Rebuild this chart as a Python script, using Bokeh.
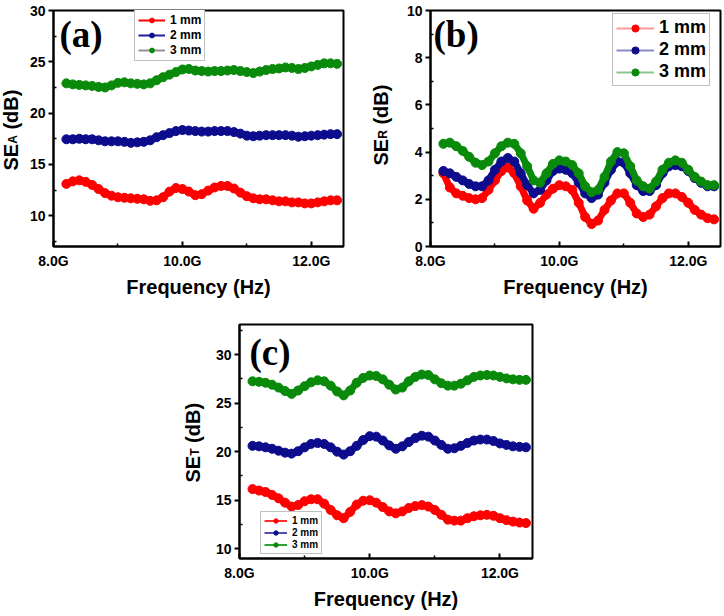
from math import pi
from bokeh.plotting import figure
from bokeh.models import Label, Legend, LegendItem, FixedTicker, Range1d, Spacer
from bokeh.layouts import row, column
from bokeh.embed import file_html
from bokeh.resources import INLINE

# ---------------- data (frequency in GHz, shielding in dB) ----------------
freq_ghz = [8.2, 8.3, 8.4, 8.5, 8.6, 8.7, 8.8, 8.9,
            9.0, 9.1, 9.2, 9.3, 9.4, 9.5, 9.6, 9.7, 9.8, 9.9,
            10.0, 10.1, 10.2, 10.3, 10.4, 10.5, 10.6, 10.7, 10.8, 10.9,
            11.0, 11.1, 11.2, 11.3, 11.4, 11.5, 11.6, 11.7, 11.8, 11.9,
            12.0, 12.1, 12.2, 12.3, 12.4]

series_labels = ["1 mm", "2 mm", "3 mm"]

# (a) SE_A
se_a_1mm = [13.1, 13.35, 13.45, 13.3, 13.0, 12.6, 12.2, 11.95,
            11.8, 11.75, 11.7, 11.65, 11.6, 11.45, 11.5, 11.8, 12.35, 12.7,
            12.6, 12.35, 12.0, 12.1, 12.45, 12.75, 12.9, 12.9, 12.65, 12.25,
            11.9, 11.7, 11.6, 11.6, 11.5, 11.4, 11.4, 11.3, 11.3, 11.2,
            11.2, 11.3, 11.4, 11.5, 11.5]
se_a_2mm = [17.45, 17.45, 17.5, 17.45, 17.45, 17.35, 17.25, 17.25,
            17.25, 17.2, 17.1, 17.15, 17.2, 17.35, 17.65, 17.85, 18.05, 18.25,
            18.35, 18.3, 18.25, 18.2, 18.2, 18.25, 18.25, 18.25, 18.15, 18.0,
            17.8, 17.75, 17.8, 17.85, 17.85, 17.85, 17.85, 17.8, 17.7, 17.75,
            17.8, 17.85, 17.9, 17.95, 17.95]
se_a_3mm = [22.9, 22.8, 22.75, 22.7, 22.65, 22.55, 22.5, 22.7,
            22.95, 23.0, 22.9, 22.85, 22.8, 22.9, 23.2, 23.5, 23.75, 24.0,
            24.25, 24.3, 24.15, 24.1, 24.05, 24.1, 24.1, 24.15, 24.2, 24.1,
            24.0, 23.9, 24.05, 24.2, 24.3, 24.35, 24.45, 24.4, 24.3, 24.4,
            24.55, 24.7, 24.85, 24.85, 24.8]

# (b) SE_R
se_r_1mm = [3.1, 2.5, 2.25, 2.15, 2.05, 2.0, 2.05, 2.4,
            2.8, 3.2, 3.35, 3.1, 2.55, 1.95, 1.6, 1.85, 2.2, 2.45,
            2.6, 2.55, 2.4, 1.85, 1.25, 0.95, 1.1, 1.55, 1.95, 2.25,
            2.25, 1.85, 1.4, 1.25, 1.35, 1.7, 2.05, 2.25, 2.25, 2.1,
            1.85, 1.55, 1.35, 1.2, 1.15]
se_r_2mm = [3.2, 3.1, 2.95, 2.8, 2.65, 2.55, 2.55, 2.8,
            3.25, 3.6, 3.75, 3.6, 3.1, 2.6, 2.25, 2.4, 2.8, 3.2,
            3.3, 3.25, 3.1, 2.7, 2.25, 2.05, 2.2, 2.7, 3.25, 3.6,
            3.55, 3.1, 2.6, 2.35, 2.35, 2.6, 3.1, 3.4, 3.45, 3.4,
            3.2, 2.9, 2.7, 2.55, 2.55]
se_r_3mm = [4.35, 4.4, 4.25, 4.05, 3.8, 3.55, 3.45, 3.6,
            3.95, 4.25, 4.4, 4.35, 3.95, 3.4, 2.8, 2.7, 3.1, 3.5,
            3.65, 3.6, 3.45, 3.1, 2.55, 2.3, 2.4, 2.95, 3.6, 4.0,
            3.95, 3.4, 2.8, 2.55, 2.45, 2.75, 3.25, 3.55, 3.65, 3.55,
            3.25, 2.95, 2.75, 2.6, 2.6]

# (c) SE_T
se_t_1mm = [16.15, 16.0, 15.85, 15.55, 15.2, 14.75, 14.35, 14.5,
            14.9, 15.1, 15.1, 14.65, 14.0, 13.45, 13.15, 13.8, 14.55, 14.95,
            15.0, 14.75, 14.3, 13.85, 13.65, 13.85, 14.2, 14.4, 14.5, 14.35,
            14.0, 13.5, 13.0, 12.9, 12.9, 13.15, 13.35, 13.45, 13.5, 13.4,
            13.15, 12.95, 12.8, 12.7, 12.65]
se_t_2mm = [20.6, 20.55, 20.45, 20.3, 20.1, 19.9, 19.8, 20.05,
            20.45, 20.8, 20.9, 20.8, 20.45, 20.0, 19.7, 20.05, 20.6, 21.2,
            21.6, 21.55, 21.15, 20.65, 20.3, 20.55, 21.0, 21.4, 21.65, 21.55,
            21.15, 20.7, 20.3, 20.35, 20.6, 20.9, 21.15, 21.25, 21.25, 21.1,
            20.85, 20.7, 20.55, 20.5, 20.45]
se_t_3mm = [27.25, 27.2, 27.1, 26.9, 26.6, 26.25, 25.95, 26.3,
            26.75, 27.15, 27.35, 27.25, 26.8, 26.2, 25.8, 26.3, 27.1, 27.6,
            27.85, 27.8, 27.45, 26.9, 26.4, 26.6, 27.25, 27.7, 27.95, 27.9,
            27.45, 27.05, 26.8, 26.8, 27.0, 27.35, 27.7, 27.85, 27.9, 27.85,
            27.7, 27.55, 27.45, 27.4, 27.4]

x_tick_values = [8, 10, 12]
x_tick_labels = ["8.0G", "10.0G", "12.0G"]
x_label = "Frequency (Hz)"

# ---------------- styling ----------------
SANS = "Liberation Sans"
SERIF = "Liberation Serif"
MARKER_COLORS = ["#ff0000", "#0c0c8c", "#0a8a0a"]


def make_panel(width, height, borders, x_rng, y_rng, y_major, series, line_colors, tag, leg):
    left, right, top, bottom = borders
    fh = height - top - bottom
    p = figure(width=width, height=height, output_backend="svg", toolbar_location=None,
               x_range=Range1d(*x_rng), y_range=Range1d(*y_rng),
               min_border_left=left, min_border_right=right,
               min_border_top=top, min_border_bottom=bottom)
    p.grid.visible = False
    p.outline_line_color = "black"
    p.outline_line_width = 2
    p.background_fill_color = "white"
    p.border_fill_color = "white"

    x_minor = [(a + b) / 2 for a, b in zip(x_tick_values[:-1], x_tick_values[1:])]
    p.xaxis.ticker = FixedTicker(ticks=x_tick_values, minor_ticks=x_minor)
    p.xaxis.major_label_overrides = dict(zip(x_tick_values, x_tick_labels))
    step = y_major[1] - y_major[0]
    y_minor = [y_major[0] - step / 2] + [v + step / 2 for v in y_major]
    p.yaxis.ticker = FixedTicker(ticks=y_major, minor_ticks=y_minor)

    for ax in (p.xaxis[0], p.yaxis[0]):
        ax.axis_line_width = 2
        ax.axis_line_color = "black"
        ax.major_tick_line_width = 2
        ax.minor_tick_line_width = 1.5
        ax.major_label_text_font = SANS
        ax.major_label_text_font_style = "bold"
        ax.major_label_text_font_size = "14px"
        ax.major_label_text_color = "black"
    p.xaxis.major_tick_in = 5
    p.xaxis.major_tick_out = 0
    p.xaxis.minor_tick_in = 3
    p.xaxis.minor_tick_out = 0
    p.xaxis.major_label_standoff = 6
    p.yaxis.major_tick_in = 0
    p.yaxis.major_tick_out = 5
    p.yaxis.minor_tick_in = 3
    p.yaxis.minor_tick_out = 0
    p.yaxis.major_label_standoff = 3

    p.xaxis.axis_label = x_label
    p.xaxis.axis_label_text_font = SANS
    p.xaxis.axis_label_text_font_style = "bold"
    p.xaxis.axis_label_text_font_size = "20px"
    p.xaxis.axis_label_text_color = "black"
    p.xaxis.axis_label_standoff = 4

    # panel tag
    p.add_layout(Label(x=tag[1], y=fh - tag[2], x_units="screen", y_units="screen",
                       text=tag[0], text_font=SERIF, text_font_style="bold",
                       text_font_size="37px", text_baseline="top", text_color="black"))

    items = []
    for ys, lab, lc, mc in zip(series, series_labels, line_colors, MARKER_COLORS):
        lr = p.line(freq_ghz, ys, line_color=lc, line_width=2)
        p.line(freq_ghz, ys, line_color=mc, line_width=7)
        sr = p.scatter(freq_ghz, ys, marker="circle", size=9, fill_color=mc, line_color=mc)
        items.append(LegendItem(label=lab, renderers=[lr, sr]))

    lx, ly, fs, gw, gh = leg
    legend = Legend(items=items, location=(lx, ly), orientation="vertical",
                    label_text_font=SANS, label_text_font_style="bold",
                    label_text_font_size=fs, label_text_color="black",
                    glyph_width=gw, glyph_height=gh, label_height=gh,
                    label_standoff=5, spacing=1, padding=3, margin=0,
                    border_line_color="#808080", border_line_width=1,
                    background_fill_color="white", background_fill_alpha=1.0)
    p.add_layout(legend)
    return p


def make_ylabel(width, height, borders, base_x, y0, sub, sub_w):
    """Narrow text-only strip holding the rotated title 'SE<sub> (dB)'.
    Its frame is aligned with the neighbouring plot's frame."""
    top, bottom = borders
    f = figure(width=width, height=height, output_backend="svg", toolbar_location=None,
               x_axis_type=None, y_axis_type=None,
               min_border_left=0, min_border_right=0,
               min_border_top=top, min_border_bottom=bottom,
               x_range=Range1d(0, 1), y_range=Range1d(0, 1))
    f.grid.visible = False
    f.outline_line_color = None
    f.background_fill_color = "white"
    f.border_fill_color = "white"
    common = dict(x_units="screen", y_units="screen", angle=pi / 2,
                  text_font=SANS, text_font_style="bold", text_color="black",
                  text_baseline="alphabetic", text_align="left")
    f.add_layout(Label(x=base_x, y=y0, text="SE", text_font_size="20px", **common))
    y1 = y0 + 1.334 * 20
    f.add_layout(Label(x=base_x + 2, y=y1, text=sub, text_font_size="12px", **common))
    y2 = y1 + sub_w * 12 + 0.278 * 20
    f.add_layout(Label(x=base_x, y=y2, text="(dB)", text_font_size="20px", **common))
    return f


ROW1_H = 308
ROW2_H = 306
R1_TOP, R1_BOT = 10, 62
R2_TOP, R2_BOT = 16, 56

lab_a = make_ylabel(26, ROW1_H, (R1_TOP, R1_BOT), 10, 76, "A", 0.722)
pa = make_panel(336, ROW1_H, (26, 19, R1_TOP, R1_BOT), (8.0, 12.5), (7.0, 30.0), [10, 15, 20, 25, 30],
                [se_a_1mm, se_a_2mm, se_a_3mm], ["#ff0000", "#2020a0", "#909090"],
                ("(a)", 6, 3), (81, 185, "12px", 27, 12))

lab_b = make_ylabel(38, ROW1_H, (R1_TOP, R1_BOT), 18, 81, "R", 0.722)
pb = make_panel(322, ROW1_H, (30, 2, R1_TOP, R1_BOT), (8.0, 12.5), (0.0, 10.0), [0, 2, 4, 6, 8, 10],
                [se_r_1mm, se_r_2mm, se_r_3mm], ["#ff9a9a", "#8a8ac8", "#8ac88a"],
                ("(b)", 3, 3), (182, 160, "18px", 38, 18))

lab_c = make_ylabel(29, ROW2_H, (R2_TOP, R2_BOT), 12, 76, "T", 0.611)
pc = make_panel(331, ROW2_H, (30, 8, R2_TOP, R2_BOT), (8.0, 12.5), (9.0, 33.1), [10, 15, 20, 25, 30],
                [se_t_1mm, se_t_2mm, se_t_3mm], ["#ff3030", "#5050b8", "#30a030"],
                ("(c)", 10, 7), (21, 4, "10px", 23, 11))

layout = column(row(lab_a, pa, lab_b, pb),
                row(Spacer(width=180, height=ROW2_H), lab_c, pc))

with open("out.html", "w") as f:
    f.write(file_html(layout, INLINE))
